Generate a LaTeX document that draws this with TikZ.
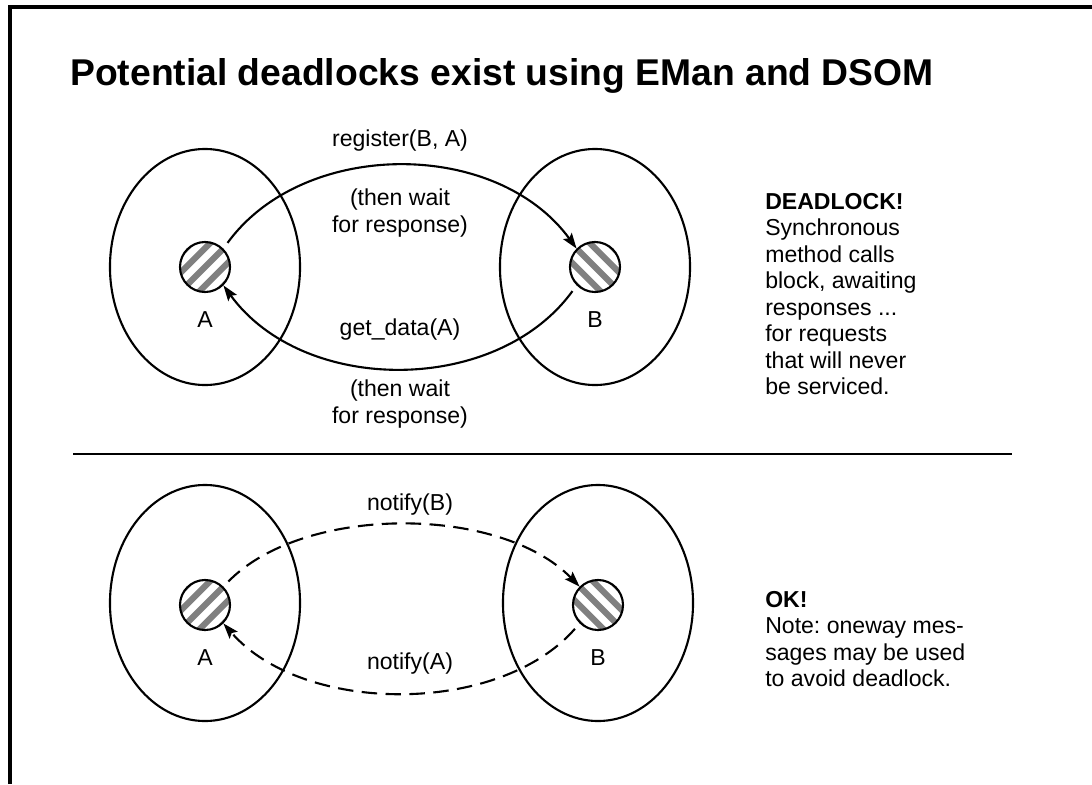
\documentclass[tikz,border=0pt]{standalone}
\usepackage{fontspec}
\setmainfont{Liberation Sans}
\usepackage{tikz}
\usetikzlibrary{positioning, arrows.meta, shapes.geometric}
\frenchspacing

\begin{document}
\begin{tikzpicture}[
    x=0.025cm, y=-0.025cm,
    font=\fontsize{16.4}{18.8}\selectfont,
    proc/.style={ellipse, draw=black, line width=1.5pt, minimum width=4.75cm, minimum height=5.9cm},
    obj/.style={circle, draw=black, line width=1.5pt, minimum size=1.25cm, inner sep=0pt},
    hatchNE/.style={obj, path picture={\foreach \k in {-3,...,3}{\draw[gray, line width=4.4pt] ([xshift=\k*0.47cm]path picture bounding box.center) ++(-1cm,-1cm) -- ++(2cm,2cm);}}},
    hatchNW/.style={obj, path picture={\foreach \k in {-3,...,3}{\draw[gray, line width=4.4pt] ([xshift=\k*0.47cm]path picture bounding box.center) ++(-1cm,1cm) -- ++(2cm,-2cm);}}},
    call/.style={-{Stealth[length=11pt, width=7.5pt, inset=2pt]}, line width=1.5pt, shorten <=5pt},
    oneway/.style={call, dash pattern=on 11pt off 6pt},
    note/.style={anchor=north west, align=left, inner sep=0pt}
]
    \useasboundingbox (0,0) rectangle (1092,784);

    % frame and title
    \draw[line width=2.4pt] (10,784) -- (10,7) -- (1092,7);
    \node[anchor=base west, inner sep=0pt, font=\fontsize{26.5}{30}\selectfont\bfseries] (title) at (70,85) {Potential deadlocks exist using EMan and DSOM};

    % Upper half - synchronous calls
    \node[proc] (hostA) at (205,267) {};
    \node[proc] (hostB) at (595,267) {};
    \node[hatchNE] (objA) at (205,267) {};
    \node[hatchNW] (objB) at (595,267) {};
    \node[below=0.34cm of objA] (labA) {A};
    \node[below=0.34cm of objB] (labB) {B};

    \draw[call] (objA.45) .. controls +(80,-110) and +(-80,-110) .. (objB.135);
    \draw[call] (objB.225) .. controls +(-80,110) and +(80,110) .. (objA.-45);

    \node (register) at (400,141) {register(B, A)};
    \node[align=center] (waitTop) at (400,213) {(then wait\\for response)};
    \node (getdata) at (400,330) {get\_data(A)};
    \node[align=center] (waitBot) at (400,404) {(then wait\\for response)};

    \node[note] (deadlock) at (765,193) {\textbf{DEADLOCK!}\\Synchronous\\method calls\\block, awaiting\\responses ...\\for requests\\that will never\\be serviced.};

    % divider
    \draw[line width=1.6pt] (73,454) -- (1012,454);

    % Lower half - oneway messages
    \node[proc] (hostA2) at (205,603) {};
    \node[proc] (hostB2) at (598,603) {};
    \node[hatchNE] (objA2) at (205,605) {};
    \node[hatchNW] (objB2) at (598,605) {};
    \node[below=0.34cm of objA2] (labA2) {A};
    \node[below=0.34cm of objB2] (labB2) {B};

    \draw[oneway] (objA2.45) .. controls +(80,-82) and +(-80,-82) .. (objB2.135);
    \draw[oneway] (objB2.225) .. controls +(-80,92) and +(80,92) .. (objA2.-45);

    \node (notifyB) at (410,505) {notify(B)};
    \node (notifyA) at (410,664) {notify(A)};

    \node[note] (okay) at (765,591) {\textbf{OK!}\\Note: oneway mes-\\sages may be used\\to avoid deadlock.};
\end{tikzpicture}
\end{document}
